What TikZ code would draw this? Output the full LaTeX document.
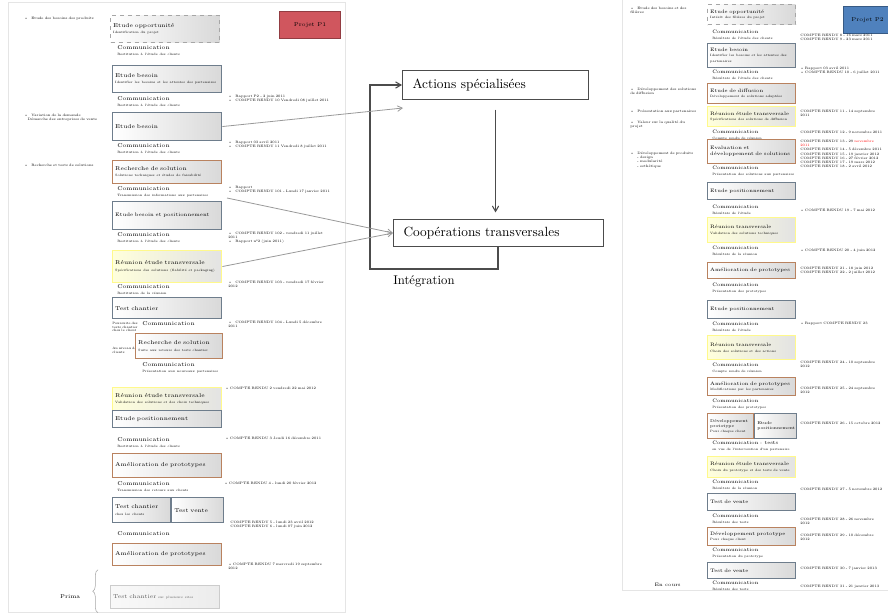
\documentclass[tikz,border=0pt]{standalone}
\usepackage{tikz}
\usetikzlibrary{arrows,positioning,decorations.pathreplacing}
\definecolor{rougeP}{RGB}{208,86,94}
\definecolor{bleuP}{RGB}{79,129,189}
\definecolor{cadre}{RGB}{110,125,140}
\definecolor{brun}{RGB}{185,130,95}
\newcommand\boxfont{\fontsize{4.2}{4.8}\selectfont}
\newcommand\commfont{\fontsize{4.2}{4.8}\selectfont}
\newcommand\rboxfont{\fontsize{3.7}{4.2}\selectfont}
\newcommand\petitfont{\fontsize{3.1}{3.6}\selectfont}
\newcommand\subfont{\fontsize{2.4}{2.8}\selectfont}
\newcommand\notefont{\fontsize{2.6}{3.1}\selectfont}
\hyphenpenalty=10000
\exhyphenpenalty=10000
\tikzset{
    etape/.style={
           rectangle,
           draw=cadre, thick,
           left color=white, right color=gray!30,
           anchor=north west,
           align=left,
           inner sep=2pt,
           text width=78pt,
           font=\boxfont
           },
    etapeR/.style={
           etape,
           text width=62pt,
           font=\rboxfont
           },
    pointille/.style={draw=gray!70, dashed},
    solution/.style={draw=brun},
    reunion/.style={
           draw=yellow!45!white,
           left color=yellow!14, right color=gray!22
           },
    comm/.style={
           anchor=north west,
           align=left,
           inner sep=0pt,
           text width=78pt,
           font=\commfont
           },
    commR/.style={comm, text width=64pt, font=\rboxfont},
    note/.style={
           anchor=north west,
           align=left,
           inner sep=0pt,
           text width=78pt,
           font=\notefont
           },
    projet/.style={
           rectangle,
           draw=rougeP!70!black, thick,
           fill=rougeP,
           minimum width=46pt,
           minimum height=20pt,
           font=\boxfont
           },
    grand/.style={
           rectangle,
           draw=black!70, thick,
           anchor=west,
           align=left,
           inner xsep=7.5pt,
           font=\fontsize{10}{12}\selectfont
           },
}

\begin{document}
\begin{tikzpicture}[x=0.75pt, y=-0.75pt, >=angle 60]
   \useasboundingbox (0,0) rectangle (888,615);
   \clip (0,0) rectangle (888,615);
   % pages
   \draw[gray!20] (8,2) rectangle (345,612);
   \draw[gray!20] (622,-5) rectangle (900,590);

   % ---- projet de gauche
   \node[projet] (p1) at (310,25) {Projet P1};

   \node[etape, pointille, minimum height=20pt] (l1) at (110,15) {Etude opportunité\\{\subfont Identification du projet}};
   \node[comm] (l2) at (117,45) {Communication\\{\subfont Restitution à l'étude des clients}};
   \node[etape, minimum height=20pt] (l3) at (112,65) {Etude besoin\\{\subfont Identifier les besoins et les attentes des partenaires}};
   \node[comm] (l4) at (117,96) {Communication\\{\subfont Restitution à l'étude des clients}};
   \node[etape, minimum height=21pt] (l5) at (112,112) {Etude besoin};
   \node[comm] (l6) at (117,143) {Communication\\{\subfont Restitution à l'étude des clients}};
   \node[etape, solution, minimum height=17pt] (l7) at (112,160) {Recherche de solution\\{\subfont Solutions techniques et études de faisabilité}};
   \node[comm] (l8) at (117,186) {Communication\\{\subfont Transmission des informations aux partenaires}};
   \node[etape, minimum height=21pt, font=\fontsize{3.8}{4.4}\selectfont] (l9) at (112,201) {Etude besoin et positionnement};
   \node[comm] (l10) at (117,232) {Communication\\{\subfont Restitution à l'étude des clients}};
   \node[etape, reunion, minimum height=24pt] (l11) at (112,250) {Réunion étude transversale\\{\subfont Spécifications des solutions (fiabilité et packaging)}};
   \node[comm] (l12) at (117,284) {Communication\\{\subfont Restitution de la réunion}};
   \node[etape, minimum height=16pt] (l13) at (112,297) {Test chantier};
   \node[comm, text width=60pt] (l14) at (142,321) {Communication};
   \node[note, text width=20pt, font=\subfont] (l14a) at (112,322) {Poursuite des tests chantier chez le client};
   \node[note, text width=20pt, font=\subfont] (l14b) at (112,347) {Au niveau des clients};
   \node[etape, solution, text width=61pt, minimum height=19pt] (l15) at (135,333) {Recherche de solution\\{\subfont Suite aux retours des tests chantier}};
   \node[comm, text width=60pt] (l16) at (142,362) {Communication\\{\subfont Présentation aux nouveaux partenaires}};
   \node[etape, reunion, minimum height=17pt] (l17) at (112,387) {Réunion étude transversale\\{\subfont Validation des solutions et des choix techniques}};
   \node[etape, minimum height=13pt] (l18) at (112,410) {Etude positionnement};
   \node[comm] (l19) at (117,437) {Communication\\{\subfont Restitution à l'étude des clients}};
   \node[etape, solution, minimum height=18pt] (l20) at (112,453) {Amélioration de prototypes};
   \node[comm] (l21) at (117,481) {Communication\\{\subfont Transmission des retours aux clients}};
   \node[etape, text width=39.5pt, minimum height=19pt] (l22) at (112,497) {Test chantier\\{\subfont chez les clients}};
   \node[etape, text width=35pt, minimum height=19pt] (l23) at (l22.north east) {Test vente};
   \node[comm] (l24) at (117,531) {Communication};
   \node[etape, solution, minimum height=16.5pt] (l25) at (112,543) {Amélioration de prototypes};
   \node[etape, draw=gray!40, left color=gray!5, right color=gray!15, text=gray!70!black, minimum height=17pt] (l26) at (110,585) {Test chantier {\subfont sur plusieurs sites}};
   \node[font=\boxfont, anchor=east] (prima) at (85,597) {Prima};
   \draw[gray!70, decorate, decoration={brace, amplitude=4pt}] (l26.south west) ++(-12,4) coordinate (b1) -- ++(0,-43) coordinate (b2);

   % notes de gauche
   \node[note, text width=62pt] (g1) at (24,17) {\textbullet\quad Etude des besoins des produits};
   \node[note, text width=62pt] (g2) at (24,114) {\textbullet\quad Variation de la demande\\\quad Démarche des entreprises de vente};
   \node[note, text width=62pt] (g3) at (24,164) {\textbullet\quad Recherche et tests de solutions};

   % notes de droite
   \node[note] (n1) at (228,95) {\textbullet\quad Rapport P2 - 2 juin 2011\\\textbullet\quad COMPTE RENDU 10 Vendredi 08 juillet 2011};
   \node[note] (n2) at (228,141) {\textbullet\quad Rapport 03 avril 2011\\\textbullet\quad COMPTE RENDU 11 Vendredi 8 juillet 2011};
   \node[note] (n3) at (228,186) {\textbullet\quad Rapport\\\textbullet\quad COMPTE RENDU 101 - Lundi 17 janvier 2011};
   \node[note] (n4) at (228,232) {\textbullet\quad COMPTE RENDU 102 - vendredi 11 juillet 2011\\\textbullet\quad Rapport n°2 (juin 2011)};
   \node[note] (n5) at (228,281) {\textbullet\quad COMPTE RENDU 103 - vendredi 17 février 2012};
   \node[note] (n6) at (228,321) {\textbullet\quad COMPTE RENDU 104 - Lundi 5 décembre 2011};
   \node[note] (n7) at (225,387) {\textbullet\ COMPTE RENDU 2 vendredi 22 mai 2012};
   \node[note] (n8) at (225,437) {\textbullet\ COMPTE RENDU 3 Jeudi 16 décembre 2011};
   \node[note] (n9) at (224,482) {\textbullet\ COMPTE RENDU 4 - lundi 20 février 2012};
   \node[note] (n10) at (230,521) {COMPTE RENDU 5 - lundi 23 avril 2012\\COMPTE RENDU 6 - lundi 07 juin 2012};
   \node[note] (n11) at (228,563) {\textbullet\ COMPTE RENDU 7 mercredi 19 septembre 2012};

   % ---- schéma central
   \node[grand, text width=124.5pt, minimum height=22pt] (actions) at (402,85) {Actions spécialisées};
   \node[grand, text width=142.5pt, minimum height=20pt] (coop) at (393,233) {Coopérations transversales};
   \node[font=\fontsize{9.5}{11}\selectfont, anchor=west, inner sep=0pt] (integ) at (393,281) {Intégration};
   \coordinate (c1) at (403,108);
   \coordinate (s1) at (227,198);
   \coordinate (k1) at (370,269);

   \draw[->, black!70, thick, shorten <=7pt, shorten >=5pt] (actions.south) -- (actions.south |- coop.north);
   \draw[->, black!70, thick] (coop.south -| 498,0) |- (k1) |- (actions.west);
   \path[->, gray!80, semithick]
    (l5.east) edge (c1)
    (s1) edge (coop.west)
    (l11.east) edge (coop.west)
       ;

   % ---- projet de droite
   \node[projet, draw=bleuP!70!black, fill=bleuP, anchor=west, minimum width=36pt] (p2) at (843,20) {Projet P2};

   \node[etapeR, pointille, minimum height=15pt] (r1) at (707,4) {Etude opportunité\\{\subfont Intérêt des filières du projet}};
   \node[commR] (r2) at (712,30) {Communication\\{\subfont Résultats de l'étude des clients}};
   \node[etapeR, minimum height=18pt] (r3) at (707,43) {Etude besoin\\{\subfont Identifier les besoins et les attentes des partenaires}};
   \node[commR] (r4) at (712,70) {Communication\\{\subfont Résultats de l'étude des clients}};
   \node[etapeR, solution, minimum height=15pt] (r5) at (707,83) {Etude de diffusion\\{\subfont Développement de solutions adaptées}};
   \node[etapeR, reunion, minimum height=15pt] (r6) at (707,106) {Réunion étude transversale\\{\subfont Spécifications des solutions de diffusion}};
   \node[commR] (r7) at (712,130) {Communication\\{\subfont Compte rendu de réunion}};
   \node[etapeR, solution, minimum height=18pt] (r8) at (707,139) {Evaluation et développement de solutions};
   \node[commR] (r9) at (712,166) {Communication\\{\subfont Présentation des solutions aux partenaires}};
   \node[etapeR, minimum height=13pt] (r10) at (707,182) {Etude positionnement};
   \node[commR] (r11) at (712,205) {Communication\\{\subfont Résultats de l'étude}};
   \node[etapeR, reunion, minimum height=19pt] (r12) at (707,217) {Réunion transversale\\{\subfont Validation des solutions techniques}};
   \node[commR] (r13) at (712,246) {Communication\\{\subfont Résultats de la réunion}};
   \node[etapeR, solution, minimum height=12pt] (r14) at (707,262) {Amélioration de prototypes};
   \node[commR] (r15) at (712,283) {Communication\\{\subfont Présentation des prototypes}};
   \node[etapeR, minimum height=13.5pt] (r16) at (707,300) {Etude positionnement};
   \node[commR] (r17) at (712,322) {Communication\\{\subfont Résultats de l'étude}};
   \node[etapeR, reunion, minimum height=18pt] (r18) at (707,335) {Réunion transversale\\{\subfont Choix des solutions et des actions}};
   \node[commR] (r19) at (712,363) {Communication\\{\subfont Compte rendu de réunion}};
   \node[etapeR, solution, minimum height=13.5pt] (r20) at (707,377) {Amélioration de prototypes\\{\subfont Modifications par les partenaires}};
   \node[commR] (r21) at (712,399) {Communication\\{\subfont Présentation des prototypes}};
   \node[etapeR, solution, text width=30.5pt, minimum height=19pt, font=\petitfont] (r22) at (707,413) {Développement prototype\\{\subfont Pour chaque client}};
   \node[etapeR, text width=27.5pt, minimum height=19pt, font=\petitfont] (r23) at (r22.north east) {Etude positionnement};
   \node[commR] (r24) at (712,441) {Communication : tests\\{\subfont en vue de l'intervention d'un partenaire}};
   \node[etapeR, reunion, minimum height=16pt] (r25) at (707,456) {Réunion étude transversale\\{\subfont Choix du prototype et des tests de vente}};
   \node[commR] (r26) at (712,480) {Communication\\{\subfont Résultats de la réunion}};
   \node[etapeR, minimum height=13pt] (r27) at (707,493) {Test de vente};
   \node[commR] (r28) at (712,514) {Communication\\{\subfont Résultats des tests}};
   \node[etapeR, solution, minimum height=13.5pt] (r29) at (707,527) {Développement prototype\\{\subfont Pour chaque client}};
   \node[commR] (r30) at (712,548) {Communication\\{\subfont Présentation du prototype}};
   \node[etapeR, minimum height=12pt] (r31) at (707,562) {Test de vente};
   \node[commR] (r32) at (712,581) {Communication\\{\subfont Résultats des tests}};
   \node[font=\rboxfont, anchor=west] (encours) at (650,585) {En cours};

   % notes de gauche (P2)
   \node[note, text width=50pt] (h1) at (630,7) {\textbullet\quad Etude des besoins et des filières};
   \node[note, text width=50pt] (h2) at (630,88) {\textbullet\quad Développement des solutions de diffusion};
   \node[note, text width=50pt] (h3) at (630,110) {\textbullet\quad Présentation aux partenaires};
   \node[note, text width=50pt] (h4) at (630,121) {\textbullet\quad Valeur sur la qualité du projet};
   \node[note, text width=50pt] (h5) at (630,152) {\textbullet\quad Développement de produits\\\qquad - design\\\qquad - modularité\\\qquad - esthétique};

   % notes de droite (P2)
   \node[note, text width=63pt] (m1) at (800,34) {COMPTE RENDU 8 - 16 mars 2011\\COMPTE RENDU 9 - 23 mars 2011};
   \node[note, text width=63pt] (m2) at (800,67) {\textbullet\ Rapport 03 avril 2011\\\textbullet\ COMPTE RENDU 10 - 6 juillet 2011};
   \node[note, text width=63pt] (m3) at (800,110) {COMPTE RENDU 11 - 14 septembre 2011};
   \node[note, text width=63pt] (m4) at (800,131) {COMPTE RENDU 12 - 9 novembre 2011};
   \node[note, text width=63pt] (m5) at (800,140) {COMPTE RENDU 13 - 29 \textcolor{red}{novembre 2011}\\COMPTE RENDU 14 - 5 décembre 2011\\COMPTE RENDU 15 - 19 janvier 2012\\COMPTE RENDU 16 - 27 février 2012\\COMPTE RENDU 17 - 19 mars 2012\\COMPTE RENDU 18 - 2 avril 2012};
   \node[note, text width=63pt] (m6) at (800,209) {\textbullet\ COMPTE RENDU 19 - 7 mai 2012};
   \node[note, text width=63pt] (m7) at (800,249) {\textbullet\ COMPTE RENDU 20 - 4 juin 2012};
   \node[note, text width=63pt] (m8) at (800,267) {COMPTE RENDU 21 - 18 juin 2012\\COMPTE RENDU 22 - 2 juillet 2012};
   \node[note, text width=63pt] (m9) at (800,322) {\textbullet\ Rapport COMPTE RENDU 23};
   \node[note, text width=63pt] (m10) at (800,361) {COMPTE RENDU 24 - 10 septembre 2012};
   \node[note, text width=63pt] (m11) at (800,387) {COMPTE RENDU 25 - 24 septembre 2012};
   \node[note, text width=63pt] (m12) at (800,422) {COMPTE RENDU 26 - 15 octobre 2012};
   \node[note, text width=63pt] (m13) at (800,488) {COMPTE RENDU 27 - 5 novembre 2012};
   \node[note, text width=63pt] (m14) at (800,518) {COMPTE RENDU 28 - 26 novembre 2012};
   \node[note, text width=63pt] (m15) at (800,534) {COMPTE RENDU 29 - 10 décembre 2012};
   \node[note, text width=63pt] (m16) at (800,567) {COMPTE RENDU 30 - 7 janvier 2013};
   \node[note, text width=63pt] (m17) at (800,585) {COMPTE RENDU 31 - 21 janvier 2013};
\end{tikzpicture}
\end{document}
